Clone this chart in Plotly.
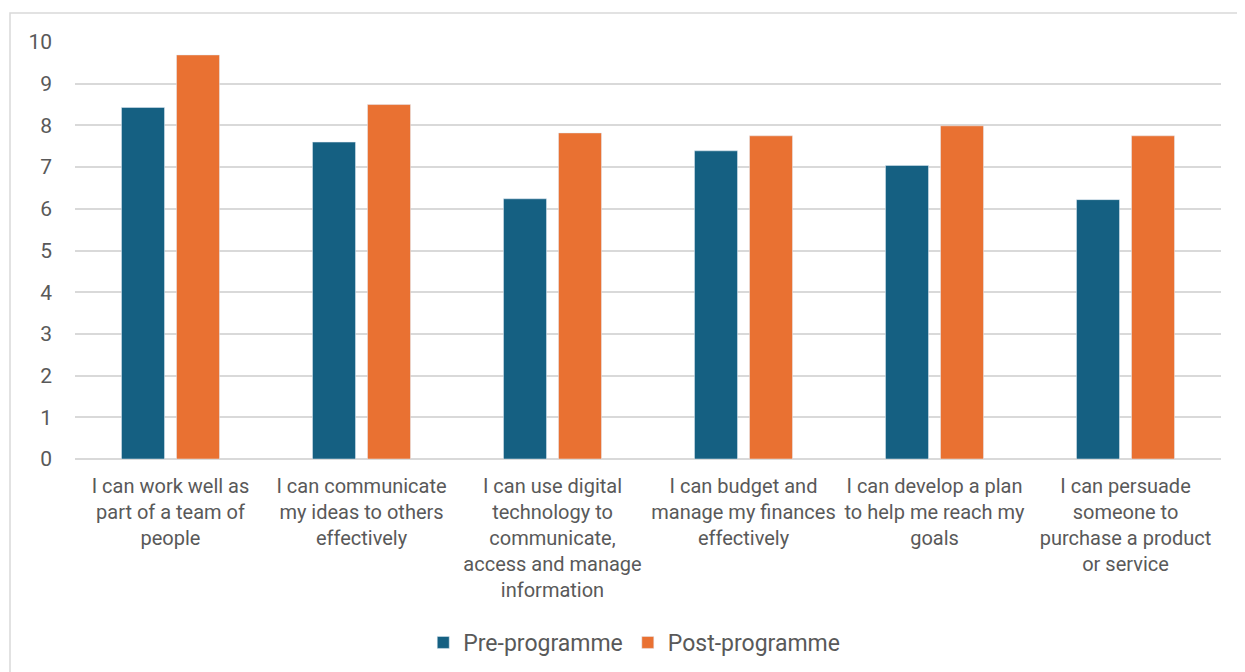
import plotly.graph_objects as go

categories = [
    "I can work well as<br>part of a team of<br>people",
    "I can communicate<br>my ideas to others<br>effectively",
    "I can use digital<br>technology to<br>communicate,<br>access and manage<br>information",
    "I can budget and<br>manage my finances<br>effectively",
    "I can develop a plan<br>to help me reach my<br>goals",
    "I can persuade<br>someone to<br>purchase a product<br>or service",
]
pre_programme = [8.43, 7.60, 6.24, 7.39, 7.04, 6.22]
post_programme = [9.69, 8.50, 7.82, 7.75, 7.99, 7.75]
y_ticks = list(range(0, 11))

FONT = "Roboto, Liberation Sans, Arial, sans-serif"
GRAY = "#595959"

# page is rendered with an 8px body offset; compensate
OFF = 8
L, R, T, B = 75 - OFF, 24, 42 - OFF, 213
PW, PH = 1146, 417

fig = go.Figure()
fig.add_trace(go.Bar(x=categories, y=pre_programme, name="Pre-programme",
                     marker=dict(color="#156082")))
fig.add_trace(go.Bar(x=categories, y=post_programme, name="Post-programme",
                     marker=dict(color="#E97132")))

fig.update_layout(
    width=L + PW + R, height=T + PH + B,
    margin=dict(l=L, r=R, t=T, b=B, autoexpand=False),
    paper_bgcolor="white", plot_bgcolor="white",
    barmode="group", bargap=0.424, bargroupgap=0.218,
    font=dict(family=FONT, color=GRAY),
    showlegend=True,
    legend=dict(orientation="h", x=0.488, xanchor="center", y=-0.44, yanchor="middle",
                font=dict(size=23, color=GRAY), itemwidth=30, traceorder="normal"),
    xaxis=dict(tickfont=dict(size=20, color=GRAY), showline=False, ticks="",
               showgrid=False, tickangle=0, ticklabelstandoff=13),
    yaxis=dict(range=[0, 10], tickvals=y_ticks, tickfont=dict(size=21, color=GRAY),
               gridcolor="#d9d9d9", gridwidth=1.5, zeroline=True, zerolinecolor="#d9d9d9",
               zerolinewidth=1.5, ticks="", ticklabelstandoff=22, showline=False),
    shapes=[dict(type="rect", xref="paper", yref="paper",
                 x0=(10 - 75) / PW, x1=(1260 - 75) / PW,
                 y0=(459 - 700) / PH, y1=(459 - 13) / PH,
                 line=dict(color="#d9d9d9", width=1.5), layer="below")],
)

fig.write_html("out.html")
